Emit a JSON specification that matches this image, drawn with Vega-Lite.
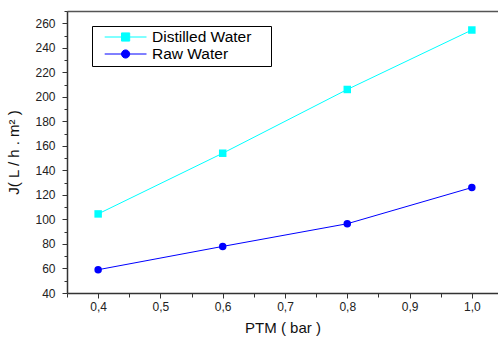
{
  "$schema": "https://vega.github.io/schema/vega-lite/v6.json",
  "width": 431,
  "height": 282,
  "autosize": "none",
  "padding": {"left": 67, "top": 11, "right": 0, "bottom": 45},
  "background": "white",
  "config": {
    "view": {"stroke": null},
    "font": "Liberation Sans",
    "axis": {
      "grid": false,
      "domainColor": "#333",
      "domainWidth": 1.5,
      "tickColor": "#333",
      "tickWidth": 1,
      "labelFont": "Liberation Sans",
      "labelFontSize": 12,
      "labelColor": "#222",
      "titleFont": "Liberation Sans",
      "titleFontSize": 15,
      "titleFontWeight": "normal",
      "titleColor": "#111"
    }
  },
  "data": {
    "values": [
      {"series": "Distilled Water", "ptm": 0.4, "j": 104.5},
      {"series": "Distilled Water", "ptm": 0.6, "j": 154},
      {"series": "Distilled Water", "ptm": 0.8, "j": 206},
      {"series": "Distilled Water", "ptm": 1.0, "j": 254.5},
      {"series": "Raw Water", "ptm": 0.4, "j": 59},
      {"series": "Raw Water", "ptm": 0.6, "j": 78},
      {"series": "Raw Water", "ptm": 0.8, "j": 96.5},
      {"series": "Raw Water", "ptm": 1.0, "j": 126}
    ]
  },
  "layer": [
    {
      "transform": [{"filter": "datum.series === 'Distilled Water'"}],
      "mark": {"type": "line", "strokeWidth": 1, "color": "#00FFFF"},
      "encoding": {
        "x": {"field": "ptm", "type": "quantitative", "scale": {"domain": [0.35, 1.042], "nice": false, "zero": false},
          "axis": {"orient": "bottom", "values": [0.4, 0.5, 0.6, 0.7, 0.8, 0.9, 1.0], "labelExpr": "replace(format(datum.value, '.1f'), '.', ',')", "tickSize": 5, "labelPadding": 3, "title": "PTM ( bar )", "titlePadding": 8}},
        "y": {"field": "j", "type": "quantitative", "scale": {"domain": [40, 270], "nice": false, "zero": false},
          "axis": {"orient": "left", "values": [40, 60, 80, 100, 120, 140, 160, 180, 200, 220, 240, 260], "tickSize": 5, "labelPadding": 7, "title": "J( L / h . m² )", "titlePadding": 13}}
      }
    },
    {
      "transform": [{"filter": "datum.series === 'Raw Water'"}],
      "mark": {"type": "line", "strokeWidth": 1, "color": "#0000FF"},
      "encoding": {
        "x": {"field": "ptm", "type": "quantitative", "scale": {"domain": [0.35, 1.042], "nice": false, "zero": false}, "axis": null},
        "y": {"field": "j", "type": "quantitative", "scale": {"domain": [40, 270], "nice": false, "zero": false}, "axis": null}
      }
    },
    {
      "transform": [{"filter": "datum.series === 'Distilled Water'"}],
      "mark": {"type": "point", "shape": "square", "filled": true, "size": 56, "opacity": 1, "color": "#00FFFF"},
      "encoding": {
        "x": {"field": "ptm", "type": "quantitative", "scale": {"domain": [0.35, 1.042], "nice": false, "zero": false}, "axis": null},
        "y": {"field": "j", "type": "quantitative", "scale": {"domain": [40, 270], "nice": false, "zero": false}, "axis": null}
      }
    },
    {
      "transform": [{"filter": "datum.series === 'Raw Water'"}],
      "mark": {"type": "point", "shape": "circle", "filled": true, "size": 56, "opacity": 1, "color": "#0000FF"},
      "encoding": {
        "x": {"field": "ptm", "type": "quantitative", "scale": {"domain": [0.35, 1.042], "nice": false, "zero": false}, "axis": null},
        "y": {"field": "j", "type": "quantitative", "scale": {"domain": [40, 270], "nice": false, "zero": false}, "axis": null}
      }
    },
    {
      "mark": {"type": "point", "filled": true, "size": 225, "opacity": 0},
      "encoding": {
        "x": {"field": "ptm", "type": "quantitative", "scale": {"domain": [0.35, 1.042], "nice": false, "zero": false},
          "axis": {"orient": "bottom", "values": [0.35, 0.45, 0.55, 0.65, 0.75, 0.85, 0.95], "tickSize": 4, "labels": false, "domain": false, "title": null}},
        "y": {"field": "j", "type": "quantitative", "scale": {"domain": [40, 270], "nice": false, "zero": false},
          "axis": {"orient": "left", "values": [50, 70, 90, 110, 130, 150, 170, 190, 210, 230, 250, 270], "tickSize": 3, "labels": false, "domain": false, "title": null}},
        "color": {"field": "series", "type": "nominal",
          "scale": {"domain": ["Distilled Water", "Raw Water"], "range": ["#00FFFF", "#0000FF"]},
          "legend": {
            "orient": "none", "legendX": 25, "legendY": 15, "title": null,
            "padding": 3, "rowPadding": 0, "labelOffset": 41,
            "labelFont": "Liberation Sans", "labelFontSize": 15.5, "labelColor": "#000",
            "symbolSize": 225, "symbolStrokeWidth": 1, "symbolOpacity": 1,
            "labelExpr": "datum.label + '\u00a0\u2800'",
            "strokeColor": "#000",
            "encode": {"symbols": {"update": {"opacity": {"value": 1}, "fill": {"scale": "color", "field": "value"}, "stroke": {"scale": "color", "field": "value"}, "strokeWidth": {"value": 1}}}}
          }},
        "shape": {"field": "series", "type": "nominal",
          "scale": {"domain": ["Distilled Water", "Raw Water"], "range": [
            "M-1,0M0.227,0H5.8M2.466,-0.547H3.56V0.547H2.466Z",
            "M-1,0M0.227,0H5.8M3.56,0A0.547,0.547,0,1,1,2.466,0A0.547,0.547,0,1,1,3.56,0Z"
          ]}}
      }
    },
    {
      "mark": {"type": "point", "opacity": 0},
      "encoding": {
        "x": {"field": "ptm", "type": "quantitative", "scale": {"domain": [0.35, 1.042], "nice": false, "zero": false},
          "axis": {"orient": "top", "ticks": false, "labels": false, "domain": true, "domainColor": "#555", "title": null}},
        "y": {"field": "j", "type": "quantitative", "scale": {"domain": [40, 270], "nice": false, "zero": false}, "axis": null}
      }
    }
  ],
  "resolve": {"axis": {"x": "independent", "y": "independent"}}
}
